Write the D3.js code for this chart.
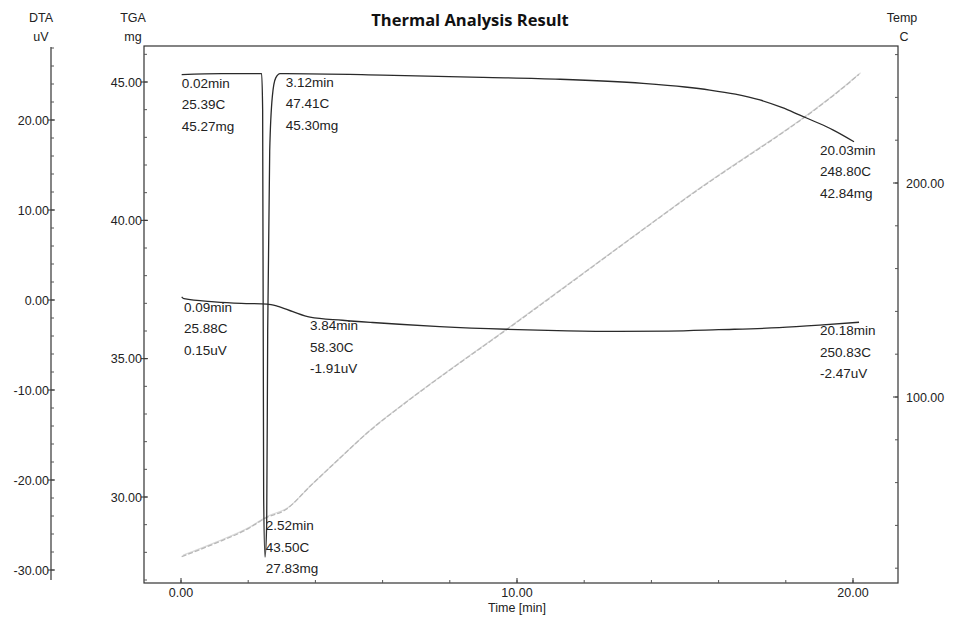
<!DOCTYPE html>
<html>
<head>
<meta charset="utf-8">
<script src="https://cdn.jsdelivr.net/npm/d3@7"></script>
<style>
  body { margin: 0; background: #fff; }
  svg { display: block; }
</style>
</head>
<body>
<div id="chart"></div>
<script>
// Thermal analysis chart (DTA / TGA / Temp vs time)

var tgaTime = [0.02, 1.2, 2.40, 2.43, 2.46, 2.50, 2.55, 2.58, 2.64, 2.72, 2.82, 2.95, 3.12, 6.0, 9.0, 11.28, 13.75, 15.0, 15.74, 16.5, 17.23, 17.9, 18.42, 19.0, 19.4, 20.03]
var tgaMass = [45.27, 45.30, 45.30, 44.0, 30.0, 27.83, 29.0, 36.0, 42.5, 44.5, 45.15, 45.30, 45.30, 45.25, 45.17, 45.10, 44.95, 44.82, 44.71, 44.56, 44.35, 44.07, 43.80, 43.50, 43.27, 42.84]

var dtaTime = [0.02, 0.09, 1.0, 1.8, 2.56, 2.86, 3.33, 3.84, 4.8, 5.7, 7.7, 9.7, 11.5, 13.0, 14.5, 16.0, 17.8, 19.0, 20.18]
var dtaValue = [0.35, 0.15, -0.2, -0.37, -0.45, -0.67, -1.3, -1.91, -2.25, -2.5, -2.95, -3.25, -3.42, -3.48, -3.45, -3.3, -3.08, -2.8, -2.47]

var tempTime = [0.02, 1.0, 2.0, 2.52, 3.12, 3.84, 4.7, 5.6, 6.7, 10.0, 15.0, 20.03, 20.18]
var tempValue = [25.39, 31.5, 38.5, 43.5, 47.41, 58.3, 71, 84, 97.5, 135.0, 192.5, 248.8, 250.83]

var dtaTicks = [-30, -20, -10, 0, 10, 20]
var tgaTicks = [30, 35, 40, 45]
var tempTicks = [100, 200]
var timeTicks = [0, 10, 20]

// annotation blocks
var notes = [
  { t: 0.02, curve: 'tga', v: 45.27, lines: ['0.02min', '25.39C', '45.27mg'] },
  { t: 3.12, curve: 'tga', v: 45.30, lines: ['3.12min', '47.41C', '45.30mg'] },
  { t: 20.03, curve: 'tga', v: 42.84, lines: ['20.03min', '248.80C', '42.84mg'] },
  { t: 2.52, curve: 'tga', v: 27.83, lines: ['2.52min', '43.50C', '27.83mg'] },
  { t: 0.09, curve: 'dta', v: 0.15, lines: ['0.09min', '25.88C', '0.15uV'] },
  { t: 3.84, curve: 'dta', v: -1.91, lines: ['3.84min', '58.30C', '-1.91uV'] },
  { t: 20.18, curve: 'dta', v: -2.47, lines: ['20.18min', '250.83C', '-2.47uV'] }
]

var width = 954, height = 621
var frame = {left: 144, right: 898, top: 46, bottom: 583}
var dtaAxisX = 51
var font = '"Liberation Sans", Arial, sans-serif'
var tickSize = '12.5px'

var x = d3.scaleLinear().domain([0, 20]).range([181, 853])
var yDta = d3.scaleLinear().domain([-30, 20]).range([570, 120])
var yTga = d3.scaleLinear().domain([30, 45]).range([497, 82])
var yTemp = d3.scaleLinear().domain([100, 200]).range([397, 183])

const svg = d3.select('#chart')
  .append('svg')
    .attr('width', width)
    .attr('height', height)
    .attr('viewBox', [0, 0, width, height])
    .style('font-family', font)

// title
svg.append('text')
    .attr('x', 470)
    .attr('y', 26)
    .attr('text-anchor', 'middle')
    .style('font', 'bold 16.5px "Open Sans", sans-serif')
    .attr('fill', '#111')
    .text('Thermal Analysis Result')

// axis headers
var headers = [
  {x: 41, lines: ['DTA', 'uV']},
  {x: 133, lines: ['TGA', 'mg']},
  {x: 902, lines: ['Temp', 'C']}
]
headers.forEach(h => {
  h.lines.forEach((s, i) => {
    svg.append('text')
        .attr('x', h.x + (i == 1 && h.lines[0] == 'Temp' ? 2 : 0))
        .attr('y', 22 + i * 19)
        .attr('text-anchor', 'middle')
        .style('font-size', tickSize)
        .attr('fill', '#222')
        .text(s)
  })
})

// plot frame
svg.append('rect')
    .attr('x', frame.left)
    .attr('y', frame.top)
    .attr('width', frame.right - frame.left)
    .attr('height', frame.bottom - frame.top)
    .attr('fill', 'none')
    .attr('stroke', '#333')
    .attr('stroke-width', 1.2)

// DTA axis (separate, far left)
const dtaAxis = svg.append('g')
dtaAxis.append('line')
    .attr('x1', dtaAxisX).attr('x2', dtaAxisX)
    .attr('y1', 47).attr('y2', 580)
    .attr('stroke', '#333')
    .attr('stroke-width', 1.2)
dtaAxis.selectAll('.minor')
  .data(d3.range(-30, 29, 2))
  .join('line')
    .attr('x1', dtaAxisX).attr('x2', dtaAxisX + 3)
    .attr('y1', d => yDta(d)).attr('y2', d => yDta(d))
    .attr('stroke', '#555')
dtaAxis.selectAll('.major')
  .data(dtaTicks)
  .join('line')
    .attr('x1', dtaAxisX - 3).attr('x2', dtaAxisX + 4)
    .attr('y1', d => yDta(d)).attr('y2', d => yDta(d))
    .attr('stroke', '#333')
dtaAxis.selectAll('text')
  .data(dtaTicks)
  .join('text')
    .attr('x', dtaAxisX - 2)
    .attr('y', d => yDta(d) + 4.5)
    .attr('text-anchor', 'end')
    .style('font-size', tickSize)
    .attr('fill', '#222')
    .text(d => d.toFixed(2))

// TGA axis (left frame edge)
const tgaAxis = svg.append('g')
tgaAxis.selectAll('.minor')
  .data(d3.range(27, 47, 1))
  .join('line')
    .attr('x1', frame.left).attr('x2', frame.left + 3)
    .attr('y1', d => yTga(d)).attr('y2', d => yTga(d))
    .attr('stroke', '#555')
tgaAxis.selectAll('.major')
  .data(tgaTicks)
  .join('line')
    .attr('x1', frame.left - 3).attr('x2', frame.left + 4)
    .attr('y1', d => yTga(d)).attr('y2', d => yTga(d))
    .attr('stroke', '#333')
tgaAxis.selectAll('text')
  .data(tgaTicks)
  .join('text')
    .attr('x', frame.left - 2)
    .attr('y', d => yTga(d) + 4.5)
    .attr('text-anchor', 'end')
    .style('font-size', tickSize)
    .attr('fill', '#222')
    .text(d => d.toFixed(2))

// Temp axis (right frame edge)
const tempAxis = svg.append('g')
tempAxis.selectAll('.minor')
  .data(d3.range(20, 261, 20))
  .join('line')
    .attr('x1', frame.right - 3).attr('x2', frame.right)
    .attr('y1', d => yTemp(d)).attr('y2', d => yTemp(d))
    .attr('stroke', '#555')
tempAxis.selectAll('.major')
  .data(tempTicks)
  .join('line')
    .attr('x1', frame.right - 5).attr('x2', frame.right)
    .attr('y1', d => yTemp(d)).attr('y2', d => yTemp(d))
    .attr('stroke', '#333')
tempAxis.selectAll('text')
  .data(tempTicks)
  .join('text')
    .attr('x', frame.right + 8)
    .attr('y', d => yTemp(d) + 4.5)
    .attr('text-anchor', 'start')
    .style('font-size', tickSize)
    .attr('fill', '#222')
    .text(d => d.toFixed(2))

// time axis (bottom frame edge)
const timeAxis = svg.append('g')
timeAxis.selectAll('.minor')
  .data(d3.range(0, 21, 2))
  .join('line')
    .attr('x1', d => x(d)).attr('x2', d => x(d))
    .attr('y1', frame.bottom).attr('y2', frame.bottom - 3)
    .attr('stroke', '#555')
timeAxis.selectAll('.major')
  .data(timeTicks)
  .join('line')
    .attr('x1', d => x(d)).attr('x2', d => x(d))
    .attr('y1', frame.bottom).attr('y2', frame.bottom - 5)
    .attr('stroke', '#333')
timeAxis.selectAll('text')
  .data(timeTicks)
  .join('text')
    .attr('x', d => x(d))
    .attr('y', frame.bottom + 14)
    .attr('text-anchor', 'middle')
    .style('font-size', tickSize)
    .attr('fill', '#222')
    .text(d => d.toFixed(2))

svg.append('text')
    .attr('x', x(10))
    .attr('y', frame.bottom + 29)
    .attr('text-anchor', 'middle')
    .style('font-size', tickSize)
    .attr('fill', '#222')
    .text('Time  [min]')

// curves
var tempLine = d3.line()
  .x((d, i) => x(tempTime[i]))
  .y(d => yTemp(d))
  .curve(d3.curveMonotoneX)

var tgaLine = d3.line()
  .x((d, i) => x(tgaTime[i]))
  .y(d => yTga(d))
  .curve(d3.curveMonotoneX)

var dtaLine = d3.line()
  .x((d, i) => x(dtaTime[i]))
  .y(d => yDta(d))
  .curve(d3.curveMonotoneX)

const curves = svg.append('g')
    .attr('fill', 'none')
    .attr('stroke-linejoin', 'round')

curves.append('path')
    .attr('d', tempLine(tempValue))
    .attr('transform', 'translate(1.5,-1.5)')
    .attr('stroke', '#dadada')
    .attr('stroke-width', 1.2)

curves.append('path')
    .attr('d', tempLine(tempValue))
    .attr('stroke', '#b8b8b8')
    .attr('stroke-width', 1.3)
    .attr('stroke-dasharray', '5,2')

curves.append('path')
    .attr('d', tgaLine(tgaMass))
    .attr('stroke', '#2a2a2a')
    .attr('stroke-width', 1.3)

curves.append('path')
    .attr('d', dtaLine(dtaValue))
    .attr('stroke', '#2a2a2a')
    .attr('stroke-width', 1.3)

// annotations
const notesG = svg.append('g')
    .style('font-size', '13.5px')
    .attr('fill', '#222')

notes.forEach(n => {
  var px = x(n.t)
  var py = (n.curve == 'tga' ? yTga(n.v) : yDta(n.v)) + 8
  if (px + 60 > frame.right) px = frame.right - 78
  if (py + 50 > frame.bottom) py = frame.bottom - 58
  n.lines.forEach((s, i) => {
    notesG.append('text')
        .attr('x', px)
        .attr('y', py + i * 21.5 + 5)
        .text(s)
  })
})
</script>
</body>
</html>
